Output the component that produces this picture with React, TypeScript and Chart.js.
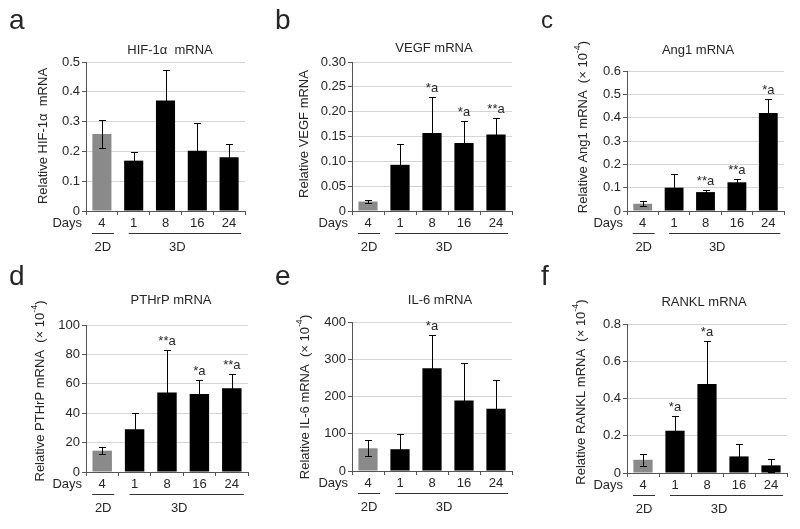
import React, { useEffect, useRef } from "react";
import { Chart, registerables } from "chart.js";

Chart.register(...registerables);

// ---------- data ----------
const categories = ["4", "1", "8", "16", "24"];
const groupLabels = ["2D", "3D"];
const xPrefix = "Days";

const hifValues = [0.258, 0.169, 0.371, 0.202, 0.18];
const hifErrors = [0.048, 0.03, 0.103, 0.092, 0.045];
const hifMarks = ["", "", "", "", ""];
const hifTicks = ["0", "0.1", "0.2", "0.3", "0.4", "0.5"];

const vegfValues = [0.019, 0.093, 0.157, 0.137, 0.154];
const vegfErrors = [0.003, 0.041, 0.072, 0.044, 0.033];
const vegfMarks = ["", "", "*a", "*a", "**a"];
const vegfTicks = ["0", "0.05", "0.10", "0.15", "0.20", "0.25", "0.30"];

const ang1Values = [0.031, 0.1, 0.081, 0.123, 0.42];
const ang1Errors = [0.01, 0.06, 0.008, 0.013, 0.062];
const ang1Marks = ["", "", "**a", "**a", "*a"];
const ang1Ticks = ["0", "0.1", "0.2", "0.3", "0.4", "0.5", "0.6"];

const pthrpValues = [14.5, 29, 54, 53, 57];
const pthrpErrors = [2.5, 11, 29, 9.5, 9.7];
const pthrpMarks = ["", "", "**a", "*a", "**a"];
const pthrpTicks = ["0", "20", "40", "60", "80", "100"];

const il6Values = [61, 58.5, 276, 189, 167];
const il6Errors = [21, 40, 89, 101, 76];
const il6Marks = ["", "", "*a", "", ""];
const il6Ticks = ["0", "100", "200", "300", "400"];

const ranklValues = [0.071, 0.227, 0.478, 0.089, 0.041];
const ranklErrors = [0.031, 0.077, 0.229, 0.067, 0.034];
const ranklMarks = ["", "*a", "*a", "", ""];
const ranklTicks = ["0", "0.2", "0.4", "0.6", "0.8"];

// ---------- styles ----------
const FONT = "'Liberation Sans', Arial, Helvetica, sans-serif";
const TEXT = "#262626";
const AXIS = "#555555";
const GRID = "#d4d4d4";
const GRAY = "#8a8a8a";
const BLACK = "#000000";

type Panel = {
  letter: string;
  letterSize: number;
  title: string;
  yTitle: string;
  scaled: boolean;
  values: number[];
  errors: number[];
  marks: string[];
  ticks: string[];
  max: number;
  step: number;
  left: number;
  top: number;
  w: number;
  h: number;
  area: { l: number; t: number; r: number; b: number };
  titleX: number;
  titleY: number;
  yTitleX: number;
  yTitleY: number;
  letterY: number;
};

const panels: Panel[] = [
  {
    letter: "a", letterSize: 28, title: "HIF-1α  mRNA", yTitle: "Relative HIF-1α  mRNA", scaled: false,
    values: hifValues, errors: hifErrors, marks: hifMarks, ticks: hifTicks, max: 0.5, step: 0.1,
    left: 0, top: 0, w: 266, h: 265, area: { l: 86, t: 62, r: 245, b: 211 },
    titleX: 170, titleY: 50, yTitleX: 43, yTitleY: 136, letterY: 29,
  },
  {
    letter: "b", letterSize: 28, title: "VEGF mRNA", yTitle: "Relative VEGF mRNA", scaled: false,
    values: vegfValues, errors: vegfErrors, marks: vegfMarks, ticks: vegfTicks, max: 0.3, step: 0.05,
    left: 266, top: 0, w: 266, h: 265, area: { l: 86, t: 62, r: 246, b: 211 },
    titleX: 168, titleY: 48, yTitleX: 38, yTitleY: 134, letterY: 29,
  },
  {
    letter: "c", letterSize: 24, title: "Ang1 mRNA", yTitle: "Relative Ang1 mRNA", scaled: true,
    values: ang1Values, errors: ang1Errors, marks: ang1Marks, ticks: ang1Ticks, max: 0.6, step: 0.1,
    left: 532, top: 0, w: 268, h: 265, area: { l: 95, t: 71, r: 252, b: 211 },
    titleX: 166, titleY: 50, yTitleX: 51, yTitleY: 127, letterY: 28,
  },
  {
    letter: "d", letterSize: 28, title: "PTHrP mRNA", yTitle: "Relative PTHrP mRNA", scaled: true,
    values: pthrpValues, errors: pthrpErrors, marks: pthrpMarks, ticks: pthrpTicks, max: 100, step: 20,
    left: 0, top: 265, w: 266, h: 264, area: { l: 86, t: 60, r: 248, b: 207 },
    titleX: 171, titleY: 35, yTitleX: 40, yTitleY: 126, letterY: 20,
  },
  {
    letter: "e", letterSize: 28, title: "IL-6 mRNA", yTitle: "Relative IL-6 mRNA", scaled: true,
    values: il6Values, errors: il6Errors, marks: il6Marks, ticks: il6Ticks, max: 400, step: 100,
    left: 266, top: 265, w: 266, h: 264, area: { l: 86, t: 57, r: 246, b: 206 },
    titleX: 174, titleY: 35, yTitleX: 39, yTitleY: 132, letterY: 20,
  },
  {
    letter: "f", letterSize: 28, title: "RANKL mRNA", yTitle: "Relative RANKL mRNA", scaled: true,
    values: ranklValues, errors: ranklErrors, marks: ranklMarks, ticks: ranklTicks, max: 0.8, step: 0.2,
    left: 532, top: 265, w: 268, h: 264, area: { l: 95, t: 59, r: 255, b: 208 },
    titleX: 172, titleY: 37, yTitleX: 49, yTitleY: 127, letterY: 20,
  },
];

const font = (size: number) => `${size}px ${FONT}`;

const decorPlugin = {
  id: "decor",
  afterDatasetsDraw(chart: any, _args: any, o: any) {
    const p: Panel = o.panel;
    const { ctx } = chart;
    const xs = chart.scales.x;
    const ys = chart.scales.y;
    ctx.save();
    ctx.strokeStyle = "#000000";
    ctx.lineWidth = 1;
    p.values.forEach((v, i) => {
      const e = p.errors[i];
      const x = Math.round(xs.getPixelForValue(i)) + 0.5;
      const yt = Math.round(ys.getPixelForValue(v + e)) + 0.5;
      const yb = Math.round(ys.getPixelForValue(Math.max(0, v - e))) + 0.5;
      ctx.beginPath();
      ctx.moveTo(x, yt);
      ctx.lineTo(x, yb);
      ctx.moveTo(x - 3.5, yt);
      ctx.lineTo(x + 3.5, yt);
      ctx.moveTo(x - 3.5, yb);
      ctx.lineTo(x + 3.5, yb);
      ctx.stroke();
    });
    // significance marks
    ctx.fillStyle = TEXT;
    ctx.font = font(13);
    ctx.textAlign = "center";
    ctx.textBaseline = "alphabetic";
    p.marks.forEach((m, i) => {
      if (!m) return;
      const x = xs.getPixelForValue(i);
      const yt = ys.getPixelForValue(p.values[i] + p.errors[i]);
      ctx.fillText(m, x, yt - 5);
    });
    ctx.restore();
  },
  afterDraw(chart: any, _args: any, o: any) {
    const p: Panel = o.panel;
    const { ctx, chartArea } = chart;
    const xs = chart.scales.x;
    ctx.save();
    ctx.fillStyle = TEXT;

    // panel letter
    ctx.font = font(p.letterSize);
    ctx.textAlign = "left";
    ctx.textBaseline = "alphabetic";
    ctx.fillText(p.letter, 9, p.letterY);

    // title
    ctx.font = font(13);
    ctx.textAlign = "center";
    ctx.textBaseline = "middle";
    ctx.fillText(p.title, p.titleX, p.titleY);

    // "Days"
    ctx.textAlign = "right";
    ctx.fillText(xPrefix, chartArea.left - 4, chartArea.bottom + 12.5);

    // group underlines and labels
    const x0 = xs.getPixelForValue(0);
    const x1 = xs.getPixelForValue(1);
    const x4 = xs.getPixelForValue(categories.length - 1);
    const ly = Math.round(chartArea.bottom + 22) + 0.5;
    ctx.strokeStyle = "#333";
    ctx.lineWidth = 1;
    ctx.beginPath();
    ctx.moveTo(x0 - 10, ly);
    ctx.lineTo(x0 + 12, ly);
    ctx.moveTo(x1 - 5, ly);
    ctx.lineTo(x4 + 12, ly);
    ctx.stroke();
    ctx.textAlign = "center";
    ctx.fillText(groupLabels[0], x0 + 1, chartArea.bottom + 36);
    ctx.fillText(groupLabels[1], (x1 + x4) / 2 - 4, chartArea.bottom + 36);

    // y-axis title (rotated)
    ctx.translate(p.yTitleX, p.yTitleY);
    ctx.rotate(-Math.PI / 2);
    ctx.textAlign = "left";
    ctx.textBaseline = "middle";
    const main = p.yTitle;
    const partA = "  (× 10";
    const sup = "-4";
    const partB = ")";
    ctx.font = font(13);
    const wMain = ctx.measureText(main).width;
    const wA = p.scaled ? ctx.measureText(partA).width : 0;
    const wB = p.scaled ? ctx.measureText(partB).width : 0;
    ctx.font = font(9);
    const wSup = p.scaled ? ctx.measureText(sup).width : 0;
    const total = wMain + wA + wSup + wB;
    let cx = -total / 2;
    ctx.font = font(13);
    ctx.fillText(main, cx, 0);
    cx += wMain;
    if (p.scaled) {
      ctx.fillText(partA, cx, 0);
      cx += wA;
      ctx.font = font(9);
      ctx.fillText(sup, cx, -5);
      cx += wSup;
      ctx.font = font(13);
      ctx.fillText(partB, cx, 0);
    }
    ctx.restore();
  },
};

function PanelChart({ p }: { p: Panel }) {
  const ref = useRef<HTMLCanvasElement>(null);
  useEffect(() => {
    if (!ref.current) return;
    const chart = new Chart(ref.current, {
      type: "bar",
      data: {
        labels: categories,
        datasets: [
          {
            data: p.values,
            backgroundColor: p.values.map((_, i) => (i === 0 ? GRAY : BLACK)),
            borderWidth: 0,
            barPercentage: 0.6,
            categoryPercentage: 1,
          },
        ],
      },
      options: {
        animation: false,
        responsive: false,
        maintainAspectRatio: false,
        events: [],
        layout: { padding: { left: 0, top: p.area.t, right: p.w - p.area.r, bottom: 0 } },
        plugins: {
          legend: { display: false },
          tooltip: { enabled: false },
          title: { display: false },
          decor: { panel: p },
        } as any,
        scales: {
          x: {
            grid: {
              display: true,
              drawOnChartArea: false,
              drawTicks: true,
              tickLength: 4,
              tickColor: AXIS,
              offset: true,
            },
            border: { color: AXIS, width: 1 },
            ticks: {
              font: { family: FONT, size: 13 },
              color: TEXT,
              padding: 1,
              maxRotation: 0,
              autoSkip: false,
            },
            afterFit: (s: any) => {
              s.height = p.h - p.area.b;
            },
          },
          y: {
            min: 0,
            max: p.max,
            ticks: {
              stepSize: p.step,
              font: { family: FONT, size: 13 },
              color: TEXT,
              padding: 2,
              autoSkip: false,
              callback: (_v: any, i: number) => p.ticks[i] ?? "",
            },
            grid: { color: GRID, tickColor: AXIS, tickLength: 4, lineWidth: 1 },
            border: { color: AXIS, width: 1 },
            afterFit: (s: any) => {
              s.width = p.area.l;
            },
          },
        },
      } as any,
      plugins: [decorPlugin as any],
    });
    return () => chart.destroy();
  }, [p]);
  return (
    <canvas
      ref={ref}
      width={p.w}
      height={p.h}
      style={{ position: "absolute", left: p.left, top: p.top, width: p.w, height: p.h }}
    />
  );
}

export default function App() {
  return (
    <div
      style={{
        position: "absolute",
        left: 0,
        top: 0,
        width: 800,
        height: 529,
        background: "#ffffff",
        overflow: "hidden",
      }}
    >
      {panels.map((p) => (
        <PanelChart key={p.letter} p={p} />
      ))}
    </div>
  );
}
